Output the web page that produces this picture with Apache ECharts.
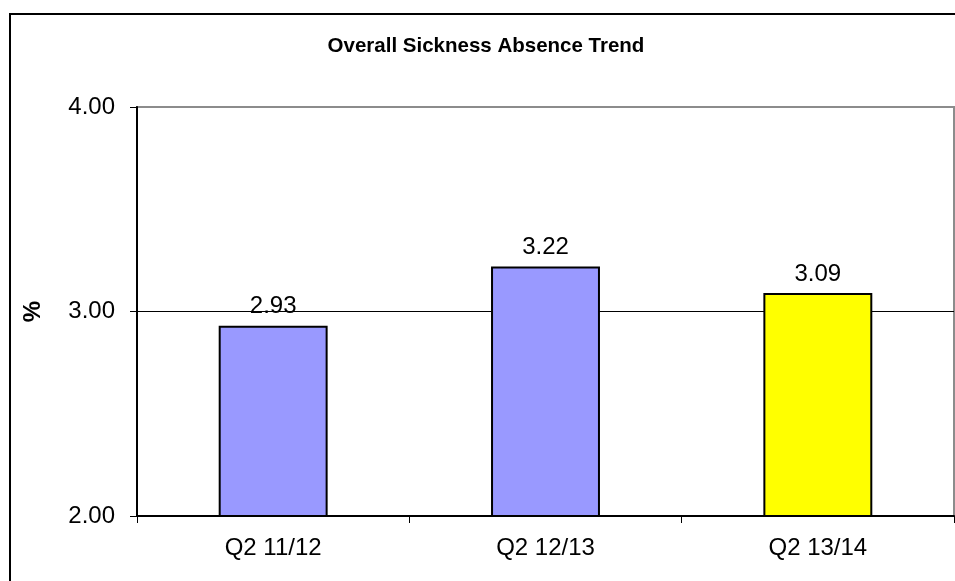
<!DOCTYPE html>
<html>
<head>
<meta charset="utf-8">
<script src="https://cdn.jsdelivr.net/npm/echarts@6/dist/echarts.min.js"></script>
<style>
  html, body { margin: 0; padding: 0; background: #fff; }
  #chart { width: 955px; height: 581px; }
</style>
</head>
<body>
<div id="chart"></div>
<script>
// Quarterly sickness absence rates (%)
const categories = ['Q2 11/12', 'Q2 12/13', 'Q2 13/14'];
const absenceRates = [2.93, 3.22, 3.09];
const barColors = ['#9999FF', '#9999FF', '#FFFF00'];
const yTicks = { min: 2, max: 4, step: 1 };
const gridlineValues = [3];

const FONT = 'Liberation Sans, Arial, sans-serif';
const chart = echarts.init(document.getElementById('chart'), null, { renderer: 'canvas' });

chart.setOption({
  animation: false,
  backgroundColor: '#ffffff',
  title: {
    text: 'Overall Sickness Absence Trend',
    left: 481,
    top: 31,
    textAlign: 'center',
    textStyle: { fontFamily: FONT, fontSize: 20.5, fontWeight: 'bold', color: '#000' }
  },
  // outer frame of the chart area
  graphic: [{
    type: 'rect',
    shape: { x: 10, y: 14, width: 1000, height: 700 },
    style: { fill: 'none', stroke: '#000', lineWidth: 2 },
    silent: true,
    z: 0
  }],
  grid: {
    left: 137, top: 107, width: 817, height: 409,
    show: true, borderColor: '#8c8c8c', borderWidth: 2, backgroundColor: 'transparent'
  },
  xAxis: {
    type: 'category',
    data: categories,
    axisLine: { lineStyle: { color: '#000', width: 2 } },
    axisTick: { show: true, length: 7, alignWithLabel: false, lineStyle: { color: '#000', width: 1 } },
    axisLabel: { margin: 20, fontFamily: FONT, fontSize: 24, color: '#000' },
    splitLine: { show: false }
  },
  yAxis: {
    type: 'value',
    min: yTicks.min, max: yTicks.max, interval: yTicks.step,
    name: '%',
    nameLocation: 'middle',
    nameGap: 92,
    nameRotate: 90,
    nameTextStyle: { fontFamily: FONT, fontSize: 24, fontWeight: 'bold', color: '#000' },
    axisLine: { show: true, lineStyle: { color: '#000', width: 2 } },
    axisTick: { show: true, length: 7, lineStyle: { color: '#000', width: 1 } },
    axisLabel: {
      margin: 22,
      formatter: v => v.toFixed(2),
      fontFamily: FONT, fontSize: 24, color: '#000'
    },
    splitLine: { show: false },
    splitArea: { show: false }
  },
  series: [{
    type: 'bar',
    barWidth: '40%',
    data: absenceRates.map((v, i) => ({ value: v, itemStyle: { color: barColors[i] } })),
    itemStyle: { borderColor: '#000', borderWidth: 2 },
    label: {
      show: true,
      position: 'top',
      distance: 7,
      formatter: p => p.value.toFixed(2),
      fontFamily: FONT, fontSize: 24, color: '#000'
    },
    // interior horizontal gridline, drawn beneath the bars
    markLine: {
      silent: true,
      symbol: 'none',
      label: { show: false },
      lineStyle: { color: '#000', width: 1, type: 'solid' },
      data: gridlineValues.map(v => ({ yAxis: v })),
      z: 1
    },
    z: 3
  }]
});
</script>
</body>
</html>
